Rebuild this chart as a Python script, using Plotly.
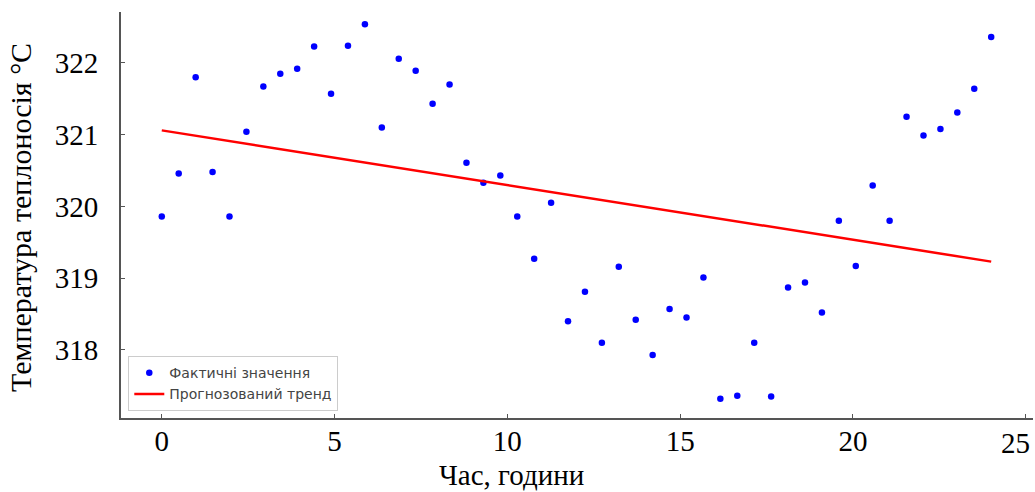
import plotly.graph_objects as go

hours = [0.0, 0.49, 0.98, 1.469, 1.959, 2.449, 2.939, 3.429, 3.918, 4.408,
         4.898, 5.388, 5.878, 6.367, 6.857, 7.347, 7.837, 8.327, 8.816, 9.306,
         9.796, 10.286, 10.776, 11.265, 11.755, 12.245, 12.735, 13.224, 13.714, 14.204,
         14.694, 15.184, 15.673, 16.163, 16.653, 17.143, 17.633, 18.122, 18.612, 19.102,
         19.592, 20.082, 20.571, 21.061, 21.551, 22.041, 22.531, 23.02, 23.51, 24.0]

actual = [319.86, 320.46, 321.80, 320.48, 319.86, 321.04, 321.67, 321.85, 321.92, 322.23,
          321.57, 322.24, 322.54, 321.10, 322.06, 321.89, 321.43, 321.70, 320.61, 320.33,
          320.43, 319.86, 319.27, 320.05, 318.40, 318.81, 318.10, 319.16, 318.42, 317.93,
          318.57, 318.45, 319.01, 317.32, 317.36, 318.10, 317.35, 318.87, 318.94, 318.52,
          319.80, 319.17, 320.29, 319.80, 321.25, 320.99, 321.08, 321.31, 321.64, 322.36]

trend_x = [0.0, 24.0]
trend_y = [321.06, 319.23]

x_ticks = [0, 5, 10, 15, 20, 25]
x_tick_labels = ["0", "5", "10", "15", "20", ""]
last_x_tick_label = "25"
y_ticks = [318, 319, 320, 321, 322]

fig = go.Figure()
fig.add_trace(go.Scatter(x=hours, y=actual, mode="markers",
                         marker=dict(color="#0000ff", size=6.5),
                         name="Фактичні значення"))
fig.add_trace(go.Scatter(x=trend_x, y=trend_y, mode="lines",
                         line=dict(color="#ff0000", width=2.5),
                         name="Прогнозований тренд"))

serif = "Liberation Serif, Times New Roman, serif"
tick_font = dict(family=serif, size=29, color="#000000")
axis_common = dict(showline=True, linecolor="#555555", linewidth=2, mirror=False,
                   showgrid=False, zeroline=False, ticks="inside", ticklen=4,
                   tickcolor="#555555", tickwidth=1, automargin=False,
                   tickfont=tick_font)

fig.update_layout(
    width=1035, height=492,
    margin=dict(l=121, r=2, t=12, b=74),
    paper_bgcolor="white", plot_bgcolor="white",
    xaxis=dict(range=[-1.18, 25.21], tickvals=x_ticks, ticktext=x_tick_labels,
               ticklabelstandoff=-4, **axis_common),
    yaxis=dict(range=[317.05, 322.71], tickvals=y_ticks, ticklabelstandoff=15, **axis_common),
    legend=dict(x=0.008, y=0.017, xanchor="left", yanchor="bottom",
                bgcolor="white", bordercolor="#cccccc", borderwidth=1,
                font=dict(family="DejaVu Sans", size=14, color="#444444"),
                tracegroupgap=0, itemwidth=30),
    showlegend=True,
    annotations=[
        dict(text=last_x_tick_label, xref="x", yref="paper", x=x_ticks[-1], y=-0.062,
             xanchor="center", yanchor="middle", xshift=-10, showarrow=False,
             font=tick_font),
        dict(text="Час, години", xref="paper", yref="paper", x=0.4287, y=-0.14,
             xanchor="center", yanchor="middle", showarrow=False,
             font=dict(family=serif, size=29, color="#000000")),
        dict(text="Температура теплоносія °C", xref="paper", yref="paper",
             x=-0.1053, y=0.495, xanchor="center", yanchor="middle", textangle=-90,
             xshift=-5, showarrow=False, font=dict(family=serif, size=30, color="#000000")),
    ],
)

fig.write_html(
    "out.html",
    config={"responsive": False, "displayModeBar": False},
    post_script="document.body.style.margin='0';document.body.style.padding='0';"
                "document.body.style.overflow='hidden';",
)
